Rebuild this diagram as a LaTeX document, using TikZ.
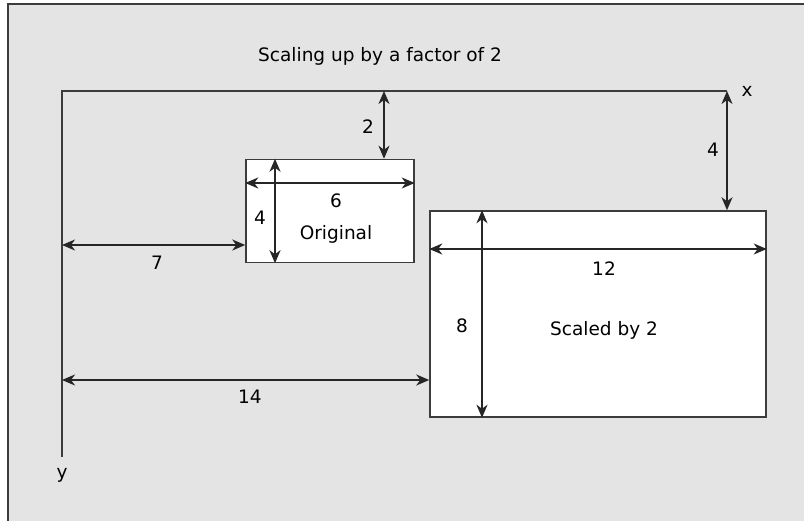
\documentclass[tikz,border=0pt]{standalone}
\usepackage{fontspec}
\setmainfont{DejaVu Sans}
\usetikzlibrary{arrows.meta}
\definecolor{panelgray}{HTML}{E4E4E4}
\definecolor{linegray}{HTML}{3C3C3C}

\begin{document}
\begin{tikzpicture}[
  x=1pt, y=-1pt,
  every node/.style={font=\fontsize{18.5}{22}\selectfont, inner sep=0pt},
  shapebox/.style={rectangle, draw=linegray, fill=white, line width=1.5pt},
  axisline/.style={draw=linegray, line width=1.5pt},
  dimline/.style={{Stealth[length=13pt,width=11pt,inset=4pt]}-{Stealth[length=13pt,width=11pt,inset=4pt]}, draw=black!85, line width=1.5pt}
]
\useasboundingbox (0,0) rectangle (804,521);
\fill[panelgray] (8,4) rectangle (804,521);
\draw[linegray, line width=1.5pt] (8,521) -- (8,4) -- (804,4);

% axes
\coordinate (origin) at (62,91);
\coordinate (xend) at (727,91);
\coordinate (yend) at (62,457);
\draw[axisline] (xend) -- (origin) -- (yend);
\node (xlabel) at (747,91) {x};
\node (ylabel) at (62,475) {y};
\node (title) at (380,56) {Scaling up by a factor of 2};

% rectangles
\node[shapebox, minimum width=168pt, minimum height=103pt] (orig) at (330,211) {};
\node[shapebox, minimum width=336pt, minimum height=206pt] (scaled) at (598,314) {};
\node (origtext) at (336,234) {Original};
\node (scaledtext) at (604,330) {Scaled by 2};

% dimensions of the original
\coordinate (topA) at (384,91);
\draw[dimline] (topA) -- (topA |- orig.north);
\node (ltwo) at (368,127) {2};
\draw[dimline] (orig.west |- 0,183) -- (orig.east |- 0,183);
\node (lsix) at (336,201) {6};
\draw[dimline] (orig.north -| 275,0) -- (orig.south -| 275,0);
\node (lfour) at (260,218) {4};
\draw[dimline] (origin |- 0,245) -- (orig.west |- 0,245);
\node (lseven) at (157,263) {7};

% dimensions of the scaled one
\draw[dimline] (xend) -- (xend |- scaled.north);
\node (lfourb) at (713,150) {4};
\draw[dimline] (scaled.west |- 0,249) -- (scaled.east |- 0,249);
\node (ltwelve) at (604,269) {12};
\draw[dimline] (scaled.north -| 482,0) -- (scaled.south -| 482,0);
\node (leight) at (462,326) {8};
\draw[dimline] (origin |- 0,380) -- (scaled.west |- 0,380);
\node (lfourteen) at (250,397) {14};
\end{tikzpicture}
\end{document}
